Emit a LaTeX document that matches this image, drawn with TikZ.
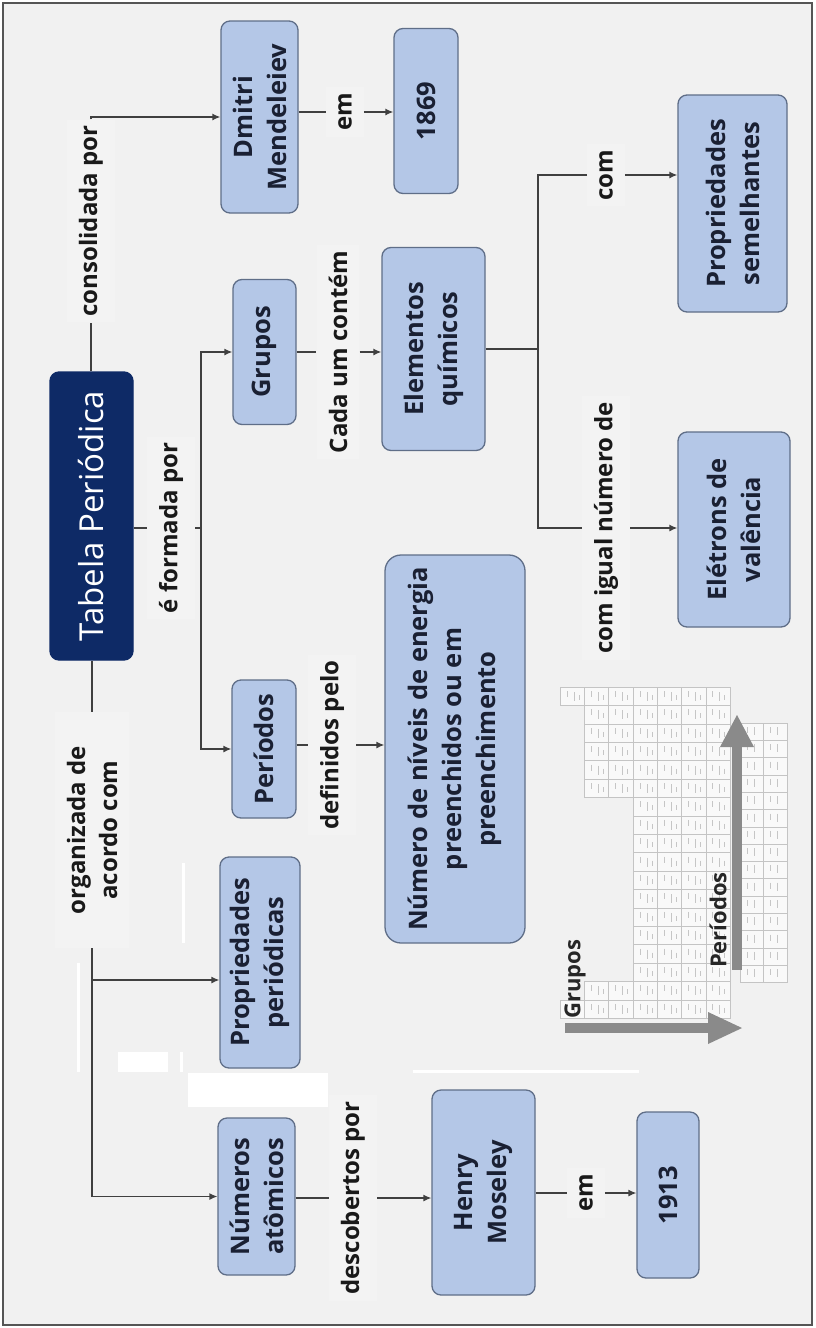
\documentclass[tikz,border=0pt]{standalone}
\usepackage{fontspec}
\setmainfont{Open Sans}
\usetikzlibrary{arrows.meta}
\definecolor{pagebg}{HTML}{F1F1F1}
\definecolor{labelbg}{HTML}{F3F3F3}
\definecolor{boxfill}{HTML}{B4C7E7}
\definecolor{boxline}{HTML}{5F6E88}
\definecolor{boxtext}{HTML}{1A2033}
\definecolor{navy}{HTML}{0E2A66}
\definecolor{wire}{HTML}{404040}
\definecolor{frame}{HTML}{555555}
\definecolor{cellline}{HTML}{C4C4C4}
\definecolor{bigarrow}{HTML}{8A8A8A}

\begin{document}
\begin{tikzpicture}[x=1pt,y=-1pt,
  conceptbox/.style={draw=boxline, fill=boxfill, line width=1.3pt, rounded corners=9pt,
    text=boxtext, font=\bfseries\fontsize{25.5}{34}\selectfont, align=center,
    inner sep=0pt, rotate=90},
  linklabel/.style={fill=labelbg, text=black!90, font=\bfseries\fontsize{24}{32}\selectfont,
    align=center, inner xsep=6pt, inner ysep=12pt, rotate=90},
  tablelabel/.style={text=black!85, font=\bfseries\fontsize{22}{26}\selectfont,
    inner sep=0pt, rotate=90},
  wire/.style={draw=wire, line width=1.3pt},
  arrowwire/.style={wire, -{Latex[length=8pt,width=7pt]}},
]
\useasboundingbox (0,0) rectangle (815,1328);

% page and frame
\fill[white] (0,0) rectangle (815,1328);
\fill[pagebg] (4,4) rectangle (811,1324);
\draw[frame, line width=2pt] (3,3) rectangle (812,1325);

% white patches on the sheet
\fill[white] (77,963) rectangle (80,1072);
\fill[white] (118,1052) rectangle (168,1072);
\fill[white] (180,1052) rectangle (183,1072);
\fill[white] (182,863) rectangle (185,943);
\fill[white] (188,1073) rectangle (328,1107);
\fill[white] (413,1070) rectangle (639,1073);

% concept boxes
\node[conceptbox, fill=navy, draw=navy, text=white, font=\fontsize{33}{40}\selectfont,
  minimum width=288pt, minimum height=83pt] (title) at (91.5,516) {Tabela Periódica};
\node[conceptbox, minimum width=192pt, minimum height=77pt] (dmitri) at (259.5,117) {Dmitri\\Mendeleiev};
\node[conceptbox, minimum width=165pt, minimum height=64pt] (y1869) at (426,111) {1869};
\node[conceptbox, minimum width=145pt, minimum height=63pt] (grupos) at (264.5,352) {Grupos};
\node[conceptbox, minimum width=203pt, minimum height=103pt] (elementos) at (433.5,349) {Elementos\\químicos};
\node[conceptbox, minimum width=217pt, minimum height=109pt] (propsem) at (732.5,203.5) {Propriedades\\semelhantes};
\node[conceptbox, minimum width=195pt, minimum height=112pt] (eletrons) at (734,529.5) {Elétrons de\\valência};
\node[conceptbox, minimum width=138pt, minimum height=64pt] (periodos) at (264,749) {Períodos};
\node[conceptbox, minimum width=388pt, minimum height=140pt, rounded corners=16pt] (niveis) at (455,749)
  {Número de níveis de energia\\preenchidos ou em\\preenchimento};
\node[conceptbox, minimum width=211pt, minimum height=80pt] (propper) at (260,962.5) {Propriedades\\periódicas};
\node[conceptbox, minimum width=157pt, minimum height=77pt] (numat) at (256.5,1196.5) {Números\\atômicos};
\node[conceptbox, minimum width=205pt, minimum height=103pt] (henry) at (483.5,1192.5) {Henry\\Moseley};
\node[conceptbox, minimum width=166pt, minimum height=62pt] (y1913) at (668,1195) {1913};

% link labels
\node[linklabel] (lcons) at (91,221) {consolidada por};
\node[linklabel] (lem1) at (345,112) {em};
\node[linklabel] (lform) at (171,528) {é formada por};
\node[linklabel] (lcada) at (338,352) {Cada um contém};
\node[linklabel] (ldef) at (332,745) {definidos pelo};
\node[linklabel] (lcom) at (606,175) {com};
\node[linklabel] (lcig) at (606,528) {com igual número de};
\node[linklabel, inner xsep=34pt] (lorg) at (92,830) {organizada de\\acordo com};
\node[linklabel] (ldesc) at (353,1198) {descobertos por};
\node[linklabel] (lem2) at (586,1193) {em};

% connectors
\draw[wire] (title.east -| lcons) -- (lcons.west);
\draw[arrowwire] (lcons.east) |- (dmitri.north);
\draw[wire] (dmitri.south |- lem1) -- (lem1.north);
\draw[arrowwire] (lem1.south) -- (y1869.north |- lem1);

\coordinate (trunkF) at (201,528);
\draw[wire] (title.south |- lform) -- (lform.north);
\draw[wire] (lform.south) -- (trunkF);
\draw[arrowwire] (trunkF) |- (grupos.north);
\draw[arrowwire] (trunkF) |- (periodos.north);

\draw[wire] (grupos.south |- lcada) -- (lcada.north);
\draw[arrowwire] (lcada.south) -- (elementos.north |- lcada);

\coordinate (trunkE) at (538,349);
\coordinate (trunkEbot) at (538,528);
\draw[wire] (elementos.south |- trunkE) -- (trunkE);
\draw[wire] (lcom.north) -| (trunkEbot) -- (lcig.north);
\draw[arrowwire] (lcom.south) -- (propsem.north |- lcom);
\draw[arrowwire] (lcig.south) -- (eletrons.north |- lcig);

\draw[wire] (periodos.south |- ldef) -- (ldef.north);
\draw[arrowwire] (ldef.south) -- (niveis.north |- ldef);

\coordinate (trunkO) at (92,980);
\draw[wire] (title.west -| lorg) -- (lorg.east);
\draw[arrowwire] (lorg.west) |- (numat.north);
\draw[arrowwire] (trunkO) -- (propper.north |- trunkO);

\draw[wire] (numat.south |- ldesc) -- (ldesc.north);
\draw[arrowwire] (ldesc.south) -- (henry.north |- ldesc);
\draw[wire] (henry.south |- lem2) -- (lem2.north);
\draw[arrowwire] (lem2.south) -- (y1913.north |- lem2);

% periodic table, turned on its side
\foreach \g/\ps in {1/1,2/2,3/4,4/4,5/4,6/4,7/4,8/4,9/4,10/4,11/4,12/4,13/2,14/2,15/2,16/2,17/2,18/1}{
  \foreach \p in {\ps,...,7}{
    \pgfmathsetmacro{\cx}{560+(\p-1)*24.3}
    \pgfmathsetmacro{\cy}{687+(18-\g)*18.4}
    \draw[cellline, fill=white!60!pagebg, line width=0.5pt] (\cx,\cy) rectangle ++(24.3,18.4);
    \draw[gray!45, line width=0.7pt] (\cx+7,\cy+4) -- ++(0,6) (\cx+14,\cy+5) -- ++(0,9) (\cx+19,\cy+8) -- ++(0,5);
  }
}
\foreach \r in {0,...,14}{
  \foreach \c in {0,1}{
    \pgfmathsetmacro{\cx}{740+\c*23.5}
    \pgfmathsetmacro{\cy}{723+\r*17.3}
    \draw[cellline, fill=white!60!pagebg, line width=0.5pt] (\cx,\cy) rectangle ++(23.5,17.3);
    \draw[gray!45, line width=0.7pt] (\cx+7,\cy+4) -- ++(0,6) (\cx+14,\cy+4) -- ++(0,8);
  }
}
% direction arrows of the table
\fill[bigarrow] (565,1023) rectangle (710,1033);
\fill[bigarrow] (708,1012) -- (742,1028) -- (708,1044) -- cycle;
\fill[bigarrow] (732,970) rectangle (742,745);
\fill[bigarrow] (720,747) -- (737,715) -- (754,747) -- cycle;
\node[tablelabel] (tgrupos) at (575,979) {Grupos};
\node[tablelabel] (tperiodos) at (718,920) {Períodos};
\end{tikzpicture}
\end{document}
